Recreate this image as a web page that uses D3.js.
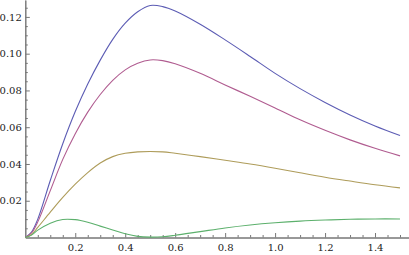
<!DOCTYPE html>
<html>
<head>
<meta charset="utf-8">
<script src="https://cdn.jsdelivr.net/npm/d3@7"></script>
<style>
  html, body { margin: 0; padding: 0; background: #fff; }
  svg { display: block; }
  .axis path, .axis line { stroke: #777; }
</style>
</head>
<body>
<svg width="409" height="255"></svg>
<script>
const xs = [0, 0.025, 0.05, 0.1, 0.15, 0.2, 0.25, 0.3, 0.35, 0.4, 0.45, 0.5, 0.55, 0.6, 0.7, 0.8, 0.9, 1.0, 1.1, 1.2, 1.3, 1.4, 1.5];

const blue    = [0, 0.003, 0.010, 0.031, 0.051, 0.0685, 0.0835, 0.0965, 0.1078, 0.1166, 0.1228, 0.1262, 0.1256, 0.1232, 0.1160, 0.1075, 0.0985, 0.0893, 0.0810, 0.0735, 0.0667, 0.0607, 0.0555];
const magenta = [0, 0.0025, 0.0085, 0.0255, 0.0425, 0.0565, 0.0682, 0.0778, 0.0855, 0.0912, 0.0948, 0.0966, 0.0962, 0.0945, 0.0893, 0.0830, 0.0768, 0.0705, 0.0640, 0.0583, 0.0531, 0.0485, 0.0444];
const gold    = [0, 0.0016, 0.0055, 0.0138, 0.0218, 0.0290, 0.0353, 0.0405, 0.0440, 0.0458, 0.0466, 0.0468, 0.0466, 0.0458, 0.0440, 0.0420, 0.0400, 0.0377, 0.0352, 0.0328, 0.0307, 0.0287, 0.0270];
const green   = [0, 0.0013, 0.004, 0.0078, 0.0098, 0.0097, 0.0083, 0.0062, 0.0041, 0.0020, 0.0006, 0.0002, 0.0004, 0.0012, 0.0032, 0.0052, 0.0068, 0.0080, 0.0089, 0.0095, 0.0099, 0.0101, 0.0101];

const xTicks = [0.2, 0.4, 0.6, 0.8, 1.0, 1.2, 1.4];
const yTicks = [0.02, 0.04, 0.06, 0.08, 0.10, 0.12];

const series = [
  { values: blue, color: '#5c5cb4' },
  { values: magenta, color: '#b05c90' },
  { values: gold, color: '#ae9c5a' },
  { values: green, color: '#5cb06c' }
];

const svg = d3.select('svg');

const x = d3.scaleLinear().domain([0, 1.536]).range([25.3, 409]);
const y = d3.scaleLinear().domain([0, 0.1292]).range([237.5, 0]);

// minor ticks first, majors drawn over them
const xMinor = d3.range(0.05, 1.536, 0.05).filter(v => Math.abs(v * 5 - Math.round(v * 5)) > 1e-6);
const yMinor = d3.range(0.005, 0.129, 0.005).filter(v => Math.abs(v * 50 - Math.round(v * 50)) > 1e-6);

svg.append('g')
  .attr('class', 'axis')
  .attr('transform', `translate(0, ${y(0)})`)
  .call(d3.axisBottom(x).tickValues(xMinor).tickSize(-2.5).tickSizeOuter(0).tickFormat(''));

svg.append('g')
  .attr('class', 'axis')
  .attr('transform', `translate(${x(0)}, 0)`)
  .call(d3.axisLeft(y).tickValues(yMinor).tickSize(-2.5).tickSizeOuter(0).tickFormat(''));

const xAxis = svg.append('g')
  .attr('class', 'axis')
  .attr('transform', `translate(0, ${y(0)})`)
  .call(d3.axisBottom(x).tickValues(xTicks).tickSize(-4.5).tickSizeOuter(0).tickPadding(6.5).tickFormat(d3.format('.1f')));

const yAxis = svg.append('g')
  .attr('class', 'axis')
  .attr('transform', `translate(${x(0)}, 0)`)
  .call(d3.axisLeft(y).tickValues(yTicks).tickSize(-4.5).tickSizeOuter(0).tickPadding(3.5).tickFormat(d3.format('.2f')));

[xAxis, yAxis].forEach(g => g.selectAll('text')
  .style('font-family', '"DejaVu Serif"')
  .style('font-size', '10px')
  .attr('fill', '#222'));

const line = d3.line()
  .x((d, i) => x(xs[i]))
  .y(d => y(d))
  .curve(d3.curveCatmullRom.alpha(0.5));

svg.selectAll('.series')
  .data(series)
  .enter()
  .append('path')
  .attr('class', 'series')
  .attr('fill', 'none')
  .attr('stroke', s => s.color)
  .attr('stroke-width', 1.1)
  .attr('d', s => line(s.values));
</script>
</body>
</html>
